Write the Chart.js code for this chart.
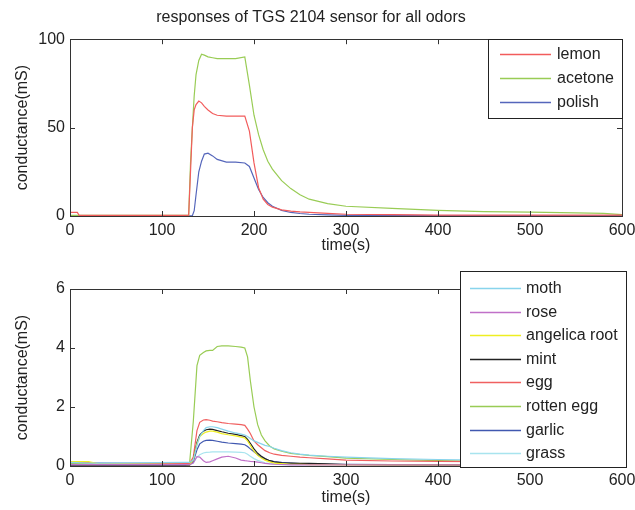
<!DOCTYPE html>
<html lang="en">
<head>
<meta charset="UTF-8">
<title>TGS 2104 responses</title>
<script src="https://cdn.jsdelivr.net/npm/chart.js"></script>
<style>
  body { margin: 0; background: #fff; }
  canvas { display: block; }
</style>
</head>
<body>
<canvas id="top" width="635" height="255"></canvas>
<canvas id="bottom" width="635" height="255"></canvas>
<script>
// time axis (s) for each panel
const timeTop = [0, 8, 10, 125, 129, 131, 133, 135, 137, 140, 143, 146, 150, 155, 160, 170, 180, 190, 195, 200,
                 205, 210, 215, 220, 230, 240, 250, 260, 280, 300, 350, 400, 450, 500, 550, 580, 600];
const timeBottom = [0, 20, 30, 125, 130, 134, 138, 141, 145, 148, 152, 155, 160, 165, 172, 180, 186, 190, 193, 196,
                    200, 204, 208, 212, 217, 222, 230, 240, 250, 260, 280, 300, 350, 400, 450, 500, 600];

// top panel: strong odors (mS)
const topNames = ['lemon', 'acetone', 'polish'];
const lemon = [2, 2, 0.3, 0.3, 0.5, 25, 50, 60, 63, 65, 64, 62, 60, 58, 57, 56.5, 56.5, 56.5, 48, 30,
               16, 9.5, 6.5, 5, 3.5, 2.8, 2.3, 2, 1.5, 1, 0.8, 0.5, 0.5, 0.5, 0.5, 0.5, 0.5];
const acetone = [0.3, 0.3, 0.3, 0.3, 0.5, 30, 50, 68, 80, 88, 91.5, 91, 90, 89.5, 89, 89, 89, 90, 74, 57,
                 46, 37.5, 31, 26.5, 20, 15.5, 12, 9.5, 7, 5.5, 4.3, 3.2, 2.5, 2.2, 1.8, 1.5, 0.8];
const polish = [0.1, 0.1, 0.1, 0.1, 0.1, 0.1, 0.2, 3, 12, 25, 31, 35, 35.5, 34, 32, 30.5, 30.5, 30, 28, 21.5,
                15, 10.5, 7.5, 5.5, 3.2, 2, 1.4, 1, 0.6, 0.4, 0.3, 0.2, 0.2, 0.2, 0.2, 0.2, 0.2];

// bottom panel: weak odors (mS)
const bottomNames = ['moth', 'rose', 'angelica root', 'mint', 'egg', 'rotten egg', 'garlic', 'grass'];
const moth = [0.12, 0.1, 0.1, 0.12, 0.12, 0.2, 0.7, 1.0, 1.2, 1.3, 1.33, 1.33, 1.3, 1.25, 1.18, 1.12, 1.08, 1.05, 1.0, 0.93,
              0.85, 0.8, 0.75, 0.7, 0.66, 0.6, 0.52, 0.45, 0.4, 0.37, 0.33, 0.3, 0.25, 0.22, 0.2, 0.18, 0.16];
const rose = [0.05, 0.05, 0.05, 0.05, 0.05, 0.1, 0.32, 0.3, 0.18, 0.12, 0.14, 0.18, 0.24, 0.3, 0.33, 0.27, 0.2, 0.18, 0.17, 0.16,
              0.15, 0.13, 0.11, 0.09, 0.07, 0.06, 0.05, 0.04, 0.04, 0.04, 0.04, 0.04, 0.04, 0.04, 0.04, 0.04, 0.04];
const angelica = [0.15, 0.15, 0.08, 0.05, 0.05, 0.2, 0.75, 1.0, 1.1, 1.15, 1.18, 1.18, 1.15, 1.1, 1.06, 1.02, 0.98, 0.95, 0.85, 0.7,
                  0.5, 0.36, 0.27, 0.2, 0.14, 0.1, 0.08, 0.06, 0.06, 0.05, 0.05, 0.04, 0.04, 0.04, 0.04, 0.04, 0.04];
const mint = [0.03, 0.03, 0.03, 0.03, 0.03, 0.2, 0.8, 1.05, 1.18, 1.23, 1.25, 1.24, 1.2, 1.16, 1.11, 1.07, 1.03, 1.0, 0.9, 0.77,
              0.58, 0.43, 0.33, 0.25, 0.18, 0.14, 0.11, 0.1, 0.09, 0.09, 0.07, 0.05, 0.04, 0.04, 0.04, 0.04, 0.04];
const egg = [0.12, 0.12, 0.08, 0.08, 0.08, 0.3, 1.2, 1.48, 1.56, 1.57, 1.55, 1.52, 1.5, 1.47, 1.44, 1.42, 1.4, 1.38, 1.25, 1.1,
             0.85, 0.72, 0.62, 0.52, 0.45, 0.4, 0.36, 0.33, 0.3, 0.28, 0.24, 0.2, 0.17, 0.16, 0.15, 0.15, 0.14];
const rottenEgg = [0.1, 0.08, 0.08, 0.08, 0.1, 1.5, 3.4, 3.75, 3.85, 3.9, 3.92, 3.92, 4.05, 4.07, 4.07, 4.05, 4.03, 4.0, 3.7, 2.9,
                   2.0, 1.4, 1.05, 0.85, 0.68, 0.58, 0.5, 0.43, 0.39, 0.36, 0.32, 0.27, 0.22, 0.18, 0.16, 0.14, 0.12];
const garlic = [0.1, 0.1, 0.1, 0.08, 0.08, 0.15, 0.55, 0.75, 0.84, 0.87, 0.88, 0.87, 0.84, 0.81, 0.78, 0.76, 0.74, 0.72, 0.66, 0.58,
                0.48, 0.38, 0.3, 0.24, 0.18, 0.15, 0.12, 0.1, 0.08, 0.07, 0.06, 0.06, 0.05, 0.05, 0.05, 0.05, 0.05];
const grass = [0.05, 0.05, 0.05, 0.05, 0.05, 0.1, 0.3, 0.38, 0.44, 0.46, 0.47, 0.48, 0.48, 0.48, 0.48, 0.47, 0.46, 0.45, 0.4, 0.33,
               0.25, 0.19, 0.15, 0.11, 0.08, 0.06, 0.05, 0.05, 0.05, 0.05, 0.05, 0.05, 0.05, 0.05, 0.05, 0.05, 0.05];

const topColors = ['#f25c5c', '#99cc55', '#5566bb'];
const bottomColors = ['#88d4ec', '#c070c8', '#eeee22', '#222222', '#f06060', '#99cc55', '#4058b0', '#a8e4ee'];

const FONT = { family: 'Liberation Sans, Arial, sans-serif', size: 16 };
Chart.defaults.font = FONT;
Chart.defaults.color = '#222';

function pts(xs, ys) {
  return ys.map((y, i) => ({ x: xs[i], y: y }));
}

// matlab style box + inward tick marks
const boxPlugin = {
  id: 'box',
  afterDatasetsDraw(chart) {
    const { ctx, chartArea: a, scales } = chart;
    ctx.save();
    ctx.strokeStyle = '#333';
    ctx.lineWidth = 1;
    ctx.strokeRect(Math.round(a.left) + 0.5, Math.round(a.top) + 0.5,
                   Math.round(a.right - a.left), Math.round(a.bottom - a.top));
    ctx.beginPath();
    scales.x.ticks.forEach(t => {
      const px = Math.round(scales.x.getPixelForValue(t.value)) + 0.5;
      ctx.moveTo(px, a.bottom); ctx.lineTo(px, a.bottom - 5);
      ctx.moveTo(px, a.top); ctx.lineTo(px, a.top + 5);
    });
    scales.y.ticks.forEach(t => {
      const py = Math.round(scales.y.getPixelForValue(t.value)) + 0.5;
      ctx.moveTo(a.left, py); ctx.lineTo(a.left + 5, py);
      ctx.moveTo(a.right, py); ctx.lineTo(a.right - 5, py);
    });
    ctx.stroke();
    ctx.restore();
  }
};

// boxed legend drawn where matlab put it
const boxLegend = {
  id: 'boxLegend',
  afterDraw(chart, args, o) {
    const ctx = chart.ctx;
    ctx.save();
    ctx.fillStyle = '#fff';
    ctx.fillRect(o.x, o.y, o.w, o.h);
    ctx.strokeStyle = '#222';
    ctx.lineWidth = 1;
    ctx.strokeRect(o.x + 0.5, o.y + 0.5, o.w, o.h);
    ctx.font = FONT.size + 'px ' + FONT.family;
    ctx.textBaseline = 'middle';
    chart.data.datasets.forEach((ds, i) => {
      const y = Math.round(o.rowY + i * o.step) + 0.5;
      ctx.strokeStyle = ds.borderColor;
      ctx.lineWidth = 1.5;
      ctx.beginPath();
      ctx.moveTo(o.x1, y); ctx.lineTo(o.x2, y);
      ctx.stroke();
      ctx.fillStyle = '#222';
      ctx.fillText(ds.label, o.tx, y);
    });
    ctx.restore();
  }
};

function makeChart(id, xs, names, series, colors, ymax, ystep, opts) {
  return new Chart(document.getElementById(id), {
    type: 'line',
    data: {
      datasets: series.map((s, i) => ({
        label: names[i],
        data: pts(xs, s),
        borderColor: colors[i],
        borderWidth: 1.2,
        pointRadius: 0,
        tension: 0,
        fill: false
      }))
    },
    options: {
      responsive: false,
      animation: false,
      layout: { padding: { top: opts.padTop, right: 13, left: 0, bottom: 0 } },
      plugins: {
        legend: { display: false },
        tooltip: { enabled: false },
        title: opts.title ? {
          display: true,
          text: opts.title,
          font: { size: 16, weight: 'normal' },
          color: '#222',
          padding: { top: 8, bottom: 12 }
        } : { display: false },
        boxLegend: opts.legend
      },
      scales: {
        x: {
          type: 'linear', min: 0, max: 600,
          ticks: { stepSize: 100, padding: 5, maxRotation: 0 },
          grid: { display: false, drawTicks: false },
          border: { display: false },
          title: { display: true, text: 'time(s)', padding: { top: 0, bottom: opts.xTitlePad } },
          afterFit: s => { s.height = opts.xHeight; s.paddingLeft = 0; s.paddingRight = 0; }
        },
        y: {
          min: 0, max: ymax,
          ticks: { stepSize: ystep, padding: 5 },
          grid: { display: false, drawTicks: false },
          border: { display: false },
          title: { display: true, text: 'conductance(mS)', padding: { top: 13, bottom: 0 } },
          afterFit: s => { s.width = 70; s.paddingTop = 0; s.paddingBottom = 0; }
        }
      }
    },
    plugins: [boxPlugin, boxLegend]
  });
}

makeChart('top', timeTop, topNames, [lemon, acetone, polish], topColors, 100, 50, {
  title: 'responses of TGS 2104 sensor for all odors',
  padTop: 0, xHeight: 39, xTitlePad: 0,
  legend: { x: 488, y: 39, w: 134, h: 79, rowY: 54, step: 24, x1: 500, x2: 551, tx: 557 }
});

makeChart('bottom', timeBottom, bottomNames,
  [moth, rose, angelica, mint, egg, rottenEgg, garlic, grass], bottomColors, 6, 2, {
  title: null,
  padTop: 34, xHeight: 44, xTitlePad: 3,
  legend: { x: 460, y: 16, w: 166, h: 196, rowY: 33, step: 23.6, x1: 470, x2: 521, tx: 526 }
});
</script>
</body>
</html>
